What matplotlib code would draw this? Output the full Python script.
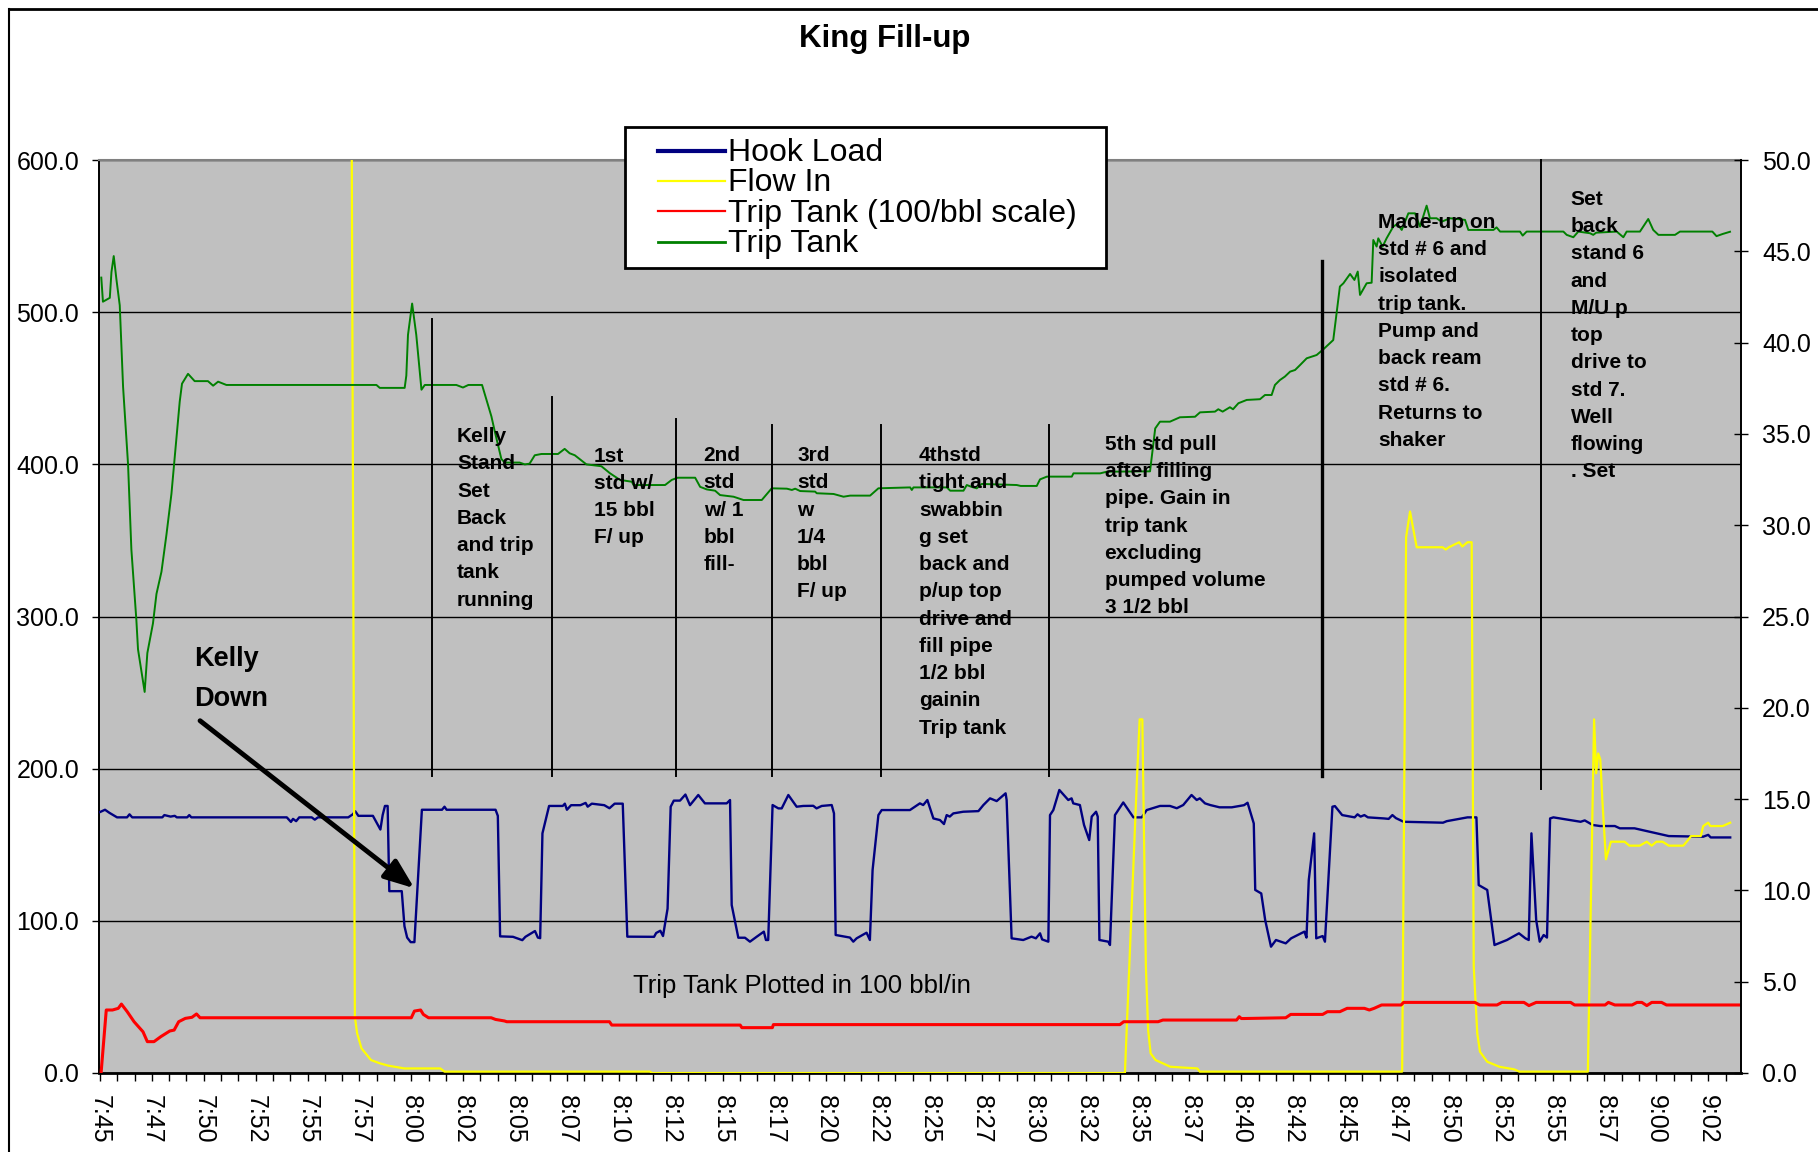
import matplotlib
matplotlib.use('Agg')
import matplotlib.pyplot as plt
from matplotlib.lines import Line2D
from matplotlib.patches import Rectangle

plt.rcParams['font.family'] = ['Liberation Sans', 'DejaVu Sans']

# x values are minutes after 7:45
tick_labels = ['7:45', '7:47', '7:50', '7:52', '7:55', '7:57', '8:00', '8:02', '8:05', '8:07',
               '8:10', '8:12', '8:15', '8:17', '8:20', '8:22', '8:25', '8:27', '8:30', '8:32',
               '8:35', '8:37', '8:40', '8:42', '8:45', '8:47', '8:50', '8:52', '8:55', '8:57',
               '9:00', '9:02']

# Hook Load (left axis)
hook_t = [0.0, 0.24, 0.45, 0.82, 1.3, 1.42, 1.55, 3.0, 3.1, 3.4, 3.6, 3.7, 4.2, 4.3, 4.4, 9.0, 9.2, 9.3,
          9.45, 9.6, 10.2, 10.35, 10.5, 11.96, 12.18, 12.3, 12.45, 13.15, 13.51, 13.62, 13.73, 13.86,
          13.94, 14.54, 14.67, 14.8, 14.97, 15.15, 15.51, 16.48, 16.6, 16.7, 19.06, 19.17, 19.28, 19.9,
          20.35, 20.5, 20.96, 21.1, 21.21, 21.32, 21.64, 22.3, 22.4, 22.5, 22.7, 23.15, 23.4, 23.5, 23.7,
          24.3, 24.55, 24.8, 25.19, 25.41, 26.7, 26.8, 27.0, 27.13, 27.35, 27.5, 27.65, 27.95, 28.21,
          28.43, 28.83, 29.15, 30.2, 30.36, 30.44, 30.76, 31.08, 31.32, 31.64, 31.99, 32.09, 32.2,
          32.41, 32.69, 32.85, 33.17, 33.57, 33.89, 34.37, 34.53, 34.78, 35.26, 35.37, 35.45, 36.14,
          36.3, 36.46, 36.94, 37.1, 37.23, 37.51, 37.67, 39.03, 39.51, 39.67, 39.87, 40.16, 40.48,
          40.67, 40.8, 40.95, 41.12, 41.6, 42.33, 42.57, 42.89, 43.21, 43.64, 43.69, 43.93, 44.49,
          44.89, 45.1, 45.3, 45.4, 45.7, 45.78, 45.94, 46.23, 46.66, 46.82, 46.9, 47.22, 47.42, 47.67,
          47.79, 48.0, 48.08, 48.16, 48.59, 48.67, 48.91, 49.31, 49.8, 50.2, 50.44, 51.08, 51.56,
          51.89, 52.2, 52.6, 52.85, 53.0, 53.25, 53.5, 53.95, 54.54, 55.13, 55.3, 55.6, 55.67, 55.96,
          56.15, 56.43, 56.67, 57.14, 57.4, 58.04, 58.14, 58.25, 58.51, 58.61, 58.92, 59.03, 59.39,
          59.51, 59.86, 60.46, 60.6, 60.75, 60.93, 61.1, 61.87, 62.1, 62.28, 62.45, 62.82, 64.72,
          64.9, 65.9, 66.33, 66.44, 66.85, 67.2, 67.8, 68.38, 68.69, 68.85, 68.98, 69.21, 69.38,
          69.57, 69.73, 69.88, 70.04, 71.35, 71.55, 71.93, 72.29, 73.0, 73.24, 73.95, 74.89, 75.6,
          77.26, 77.5, 77.62, 78.56]
hook_v = [171.5, 173, 171, 168, 168, 170, 168, 168, 169.5, 168.5, 169, 168, 168, 169.5, 168, 168, 165, 167,
          165.5, 168, 168, 166.5, 168, 168, 170, 172, 169, 169, 160, 169.5, 175.5, 175.5,
          119.5, 119.5, 96.5, 89, 86, 86, 173, 173, 175, 173, 173, 169, 89.8, 89.5,
          87.3, 89.5, 93.3, 89, 88.6, 157.5, 175.5, 175.5, 177, 173, 176, 176, 177.5, 175, 177,
          176, 174, 177, 177, 89.6, 89.5, 92, 93.5, 90, 108, 175, 179, 179, 183,
          176, 182.7, 177.2, 177.2, 179.4, 110.4, 88.9, 88.9, 86.3, 89.5, 92.9, 87.4, 87.4,
          176.1, 173.9, 173.9, 182.7, 175, 175.5, 175.6, 173.9, 175.5, 176.1, 170.6, 90.7, 89,
          86.3, 88.5, 92.2, 87.4, 133.4, 169.5, 172.8, 172.8, 177.2, 176.1, 179.4, 167.3, 166.2,
          163.6, 169.5, 168.5, 170.6, 171.7, 172.1, 176.1, 180.5, 178.7, 183.8, 179.4, 88.5, 87.4,
          89.6, 88.5, 91.8, 87.8, 86.3, 169.5, 172.8, 186, 179.4, 180.5, 177.2, 176.1, 163, 153.1,
          168.5, 171.7, 168.5, 87.4, 86.3, 84.1, 169.5, 177.8, 168, 168, 172.8, 175.5, 175.5,
          174, 176.1, 182.7, 179.4, 180.5, 177.2, 176.1, 174.6, 174.6, 176, 177.6, 164, 120.3, 118,
          100.5, 83, 87.4, 85.2, 88.5, 92.9, 89, 126.8, 157.5, 88.5, 90, 86.3, 175,
          175.4, 169.5, 168, 170, 168.5, 169.5, 168, 167.3, 167, 169.5, 167.5, 165.1, 164.5,
          165.5, 168, 168, 123.5, 120.3, 84.1, 87.4, 91.8, 88.5, 87.4, 157.5, 100.5, 86.3,
          90.7, 89, 167.3, 168, 165.1, 166, 163, 162.3, 162.3, 160.8, 160.8, 157.9, 155.7,
          155.3, 156.5, 154.8, 154.8]

# Flow In (left axis)
flow_t = [12.1, 12.28, 12.39, 12.6, 13.06, 13.5, 13.9, 14.67, 16.4, 16.6, 26.5, 26.6, 49.39, 49.96,
          50.1, 50.23, 50.4, 50.51, 50.63, 50.87, 51.58, 52.88, 53.0, 62.75, 62.94, 63.13, 63.45,
          64.7, 64.85, 65.0, 65.5, 65.65, 65.9, 66.1, 66.2, 66.37, 66.5, 66.85, 67.44, 68.15, 68.4,
          71.7, 72.0, 72.1, 72.2, 72.3, 72.4, 72.57, 72.81, 73.47, 73.7, 74.2, 74.54, 74.78, 75.0,
          75.3, 75.6, 76.3, 76.5, 76.67, 77.14, 77.26, 77.5, 77.6, 78.2, 78.56]
flow_v = [720, 37, 26, 16.2, 8.5, 6.3, 4.8, 3.0, 3.0, 0.9, 0.9, 0.0, 0.0, 190,
          232.4, 232.4, 69.9, 28.2, 12.9, 8.5, 4.1, 3.0, 0.9, 0.9, 352, 369, 345.5,
          345.5, 344, 345.5, 348.8, 346, 348.8, 348.8, 70, 26, 14, 7.4, 4.1, 2.4, 0.9,
          0.9, 232.4, 197, 210, 206, 179, 140.4, 152, 152, 149.4, 149.4, 152, 149.4, 152,
          152, 149.4, 149.4, 152.6, 155.7, 155.7, 162.3, 164.5, 162.3, 162.3, 164.5]

# Trip Tank, 100/bbl scale (left axis)
red_t = [0.05, 0.3, 0.6, 0.88, 1.03, 1.31, 1.64, 2.07, 2.28, 2.6, 2.93, 3.36, 3.57, 3.79, 4.11, 4.43,
         4.65, 4.82, 15.0, 15.15, 15.45, 15.58, 15.83, 18.85, 19.06, 19.49, 19.6, 24.55, 24.66,
         30.85, 30.93, 32.4, 32.45, 49.15, 49.33, 50.99, 51.22, 54.77, 54.9, 55.0, 55.13, 57.14,
         57.38, 58.92, 59.15, 59.75, 60.1, 60.93, 61.17, 61.4, 61.76, 62.7, 62.82, 66.25, 66.49,
         67.32, 67.56, 68.62, 68.86, 69.21, 70.87, 71.06, 72.53, 72.69, 73.0, 73.83, 74.07, 74.3,
         74.54, 74.78, 75.25, 75.49, 79.0]
red_v = [0.0, 41.4, 41.4, 42.5, 45.3, 40.3, 33.7, 27.1, 20.6, 20.6, 23.9, 27.6, 28.2, 33.7, 35.9, 36.6,
         38.8, 36.3, 36.3, 40.7, 41.4, 38.5, 36.3, 36.3, 35.2, 34.2, 33.7, 33.7, 31.5,
         31.5, 29.8, 29.8, 31.8, 31.8, 33.7, 33.7, 34.8, 34.8, 37.0, 35.8, 35.8, 36.3,
         38.5, 38.5, 40.3, 40.3, 42.5, 42.5, 41.4, 42.5, 44.7, 44.7, 46.4, 46.4, 44.7,
         44.7, 46.4, 46.4, 44.3, 46.4, 46.4, 44.7, 44.7, 46.4, 44.7, 44.7, 46.4, 46.4,
         44.3, 46.4, 46.4, 44.7, 44.7]

# Trip Tank (right axis)
green_t = [0.06, 0.14, 0.47, 0.55, 0.66, 0.79, 0.95, 1.11, 1.35, 1.51, 1.75, 1.83, 2.15, 2.28, 2.55,
           2.72, 2.96, 3.2, 3.44, 3.68, 3.84, 3.95, 4.24, 4.56, 5.2, 5.45, 5.69, 6.09, 13.32, 13.48,
           14.68, 14.76, 14.84, 15.04, 15.24, 15.41, 15.49, 15.65, 17.17, 17.49, 17.75, 18.41, 18.86,
           19.02, 19.34, 19.5, 20.22, 20.47, 20.7, 20.95, 21.27, 22.07, 22.39, 22.63, 22.88, 23.44,
           24.16, 24.58, 25.06, 25.63, 25.71, 27.23, 27.55, 27.83, 28.68, 28.92, 29.24, 29.64, 29.88,
           30.53, 31.01, 31.89, 32.37, 33.1, 33.34, 33.5, 33.74, 34.46, 34.54, 35.35, 35.83, 36.15,
           37.11, 37.51, 39.04, 39.12, 39.2, 40.81, 40.97, 41.61, 41.77, 42.0, 42.25, 42.49, 44.18,
           44.37, 45.14, 45.3, 45.63, 46.83, 46.91, 48.2, 48.52, 50.6, 50.85, 51.08, 51.56, 52.04,
           52.77, 53.01, 53.73, 53.89, 54.1, 54.45, 54.6, 54.86, 55.26, 55.9, 56.14, 56.46, 56.62,
           56.86, 57.1, 57.35, 57.59, 57.83, 58.15, 58.63, 58.95, 59.43, 59.51, 59.75, 59.92, 60.24,
           60.45, 60.61, 60.72, 61.04, 61.28, 61.36, 61.52, 61.6, 61.81, 62.0, 62.32, 62.52, 62.73,
           63.05, 63.37, 63.61, 63.93, 64.09, 64.41, 64.65, 65.06, 65.78, 65.94, 67.15, 67.3, 67.47,
           68.43, 68.56, 68.75, 70.52, 70.68, 71.0, 71.24, 71.8, 71.96, 72.1, 73.09, 73.41, 73.57,
           74.21, 74.61, 74.85, 75.1, 75.9, 76.14, 77.7, 77.9, 78.2, 78.55]
green_v = [43.56, 42.24, 42.45, 43.86, 44.74, 43.46, 42.04, 37.58, 33.33, 28.67, 24.82, 23.2, 20.87, 23.0, 24.62,
           26.24, 27.45, 29.48, 31.71, 34.75, 36.77, 37.75, 38.29, 37.89, 37.89, 37.64, 37.86, 37.68, 37.68, 37.52,
           37.52, 38.19, 40.42, 42.14, 40.42, 38.39, 37.42, 37.68, 37.68, 37.54, 37.68, 37.68, 35.96,
           35.15, 33.63, 33.43, 33.43, 33.33, 33.37, 33.83, 33.9, 33.9, 34.18, 33.94, 33.83, 33.33,
           33.23, 32.84, 32.48, 32.38, 32.2, 32.2, 32.48, 32.6, 32.6, 32.1, 31.96, 31.89, 31.65,
           31.56, 31.38, 31.38, 32.02, 32.0, 31.93, 32.0, 31.87, 31.84, 31.75, 31.71, 31.56, 31.62,
           31.62, 32.02, 32.07, 31.93, 32.07, 32.07, 31.89, 31.89, 32.2, 32.1, 32.02, 32.26, 32.2,
           32.15, 32.15, 32.51, 32.66, 32.66, 32.84, 32.84, 32.93, 32.95, 35.3, 35.67, 35.67, 35.91,
           35.94, 36.18, 36.22, 36.35, 36.22, 36.46, 36.35, 36.68, 36.86, 36.9, 37.13, 37.13, 37.68,
           37.95, 38.14, 38.41, 38.5, 38.77, 39.14, 39.32, 39.63, 40.14, 40.87, 43.07, 43.25, 43.76,
           43.43, 43.89, 42.61, 43.25, 43.28, 45.62, 45.26, 45.71, 45.26, 45.71, 46.35, 46.5, 46.17,
           47.08, 47.08, 46.35, 47.5, 46.81, 46.81, 46.62, 46.81, 46.72, 46.17, 46.17, 46.31, 46.08,
           46.08, 45.86, 46.08, 46.08, 45.9, 45.77, 46.08, 45.99, 45.9, 46.02, 46.08, 45.77, 46.08,
           46.08, 46.77, 46.17, 45.9, 45.9, 46.08, 46.08, 45.83, 45.95, 46.07]

# notes drawn on the chart: (minutes, left-axis value, text)
notes = [
    (17.2, 424.5, 'Kelly\nStand\nSet\nBack\nand trip\ntank\nrunning'),
    (23.81, 411.6, '1st\nstd w/\n15 bbl\nF/ up'),
    (29.09, 412.0, '2nd\nstd\nw/ 1\nbbl\nfill-'),
    (33.59, 412.0, '3rd\nstd\nw\n1/4\nbbl\nF/ up'),
    (39.47, 412.0, '4thstd\ntight and\nswabbin\ng set\nback and\np/up top\ndrive and\nfill pipe\n1/2 bbl\ngainin\nTrip tank'),
    (48.41, 419.3, '5th std pull\nafter filling\npipe. Gain in\ntrip tank\nexcluding\npumped volume\n3 1/2 bbl'),
    (61.59, 565.2, 'Made-up on\nstd # 6 and\nisolated\ntrip tank.\nPump and\nback ream\nstd # 6.\nReturns to\nshaker'),
    (70.87, 580.3, 'Set\nback\nstand 6\nand\nM/U p\ntop\ndrive to\nstd 7.\nWell\nflowing\n. Set'),
]
# separator lines: (minutes, bottom, top, width)
separators = [(15.98, 195.2, 495.5, 1.4), (21.78, 195.2, 444.2, 1.4), (27.74, 195.2, 429.6, 1.4),
              (32.38, 195.2, 425.8, 1.4), (37.64, 195.2, 425.8, 1.4), (45.73, 195.2, 425.8, 1.4),
              (58.89, 195.2, 533.6, 2.4), (69.42, 186.6, 600.0, 1.4)]

W, H = 1818, 1152
fig = plt.figure(figsize=(W / 100, H / 100), dpi=100)
ax = fig.add_axes([99 / W, 1 - 1073 / H, (1741 - 99) / W, (1073 - 160) / H])
ax.set_facecolor('#c0c0c0')
ax2 = ax.twinx()

ax.plot(hook_t, hook_v, color='#000080', lw=1.7, zorder=3)
ax.plot(flow_t, flow_v, color='#ffff00', lw=1.6, zorder=3)
ax.plot(red_t, red_v, color='#ff0000', lw=2.2, zorder=3)
ax2.plot(green_t, green_v, color='#008000', lw=1.4)

ax.set_xlim(-0.05, 79.08)
ax.set_ylim(0, 600)
ax2.set_ylim(0, 50)

# x axis: label every 2.5 min, small tick every 50 s
ax.set_xticks([2.5 * k for k in range(len(tick_labels))])
ax.set_xticklabels(tick_labels, rotation=-90, fontsize=18)
ax.set_xticks([5 / 6 * k for k in range(95) if k % 3 != 0], minor=True)
ax.tick_params(axis='x', which='both', direction='out', length=6, width=1, pad=10)

ax.set_yticks(range(0, 601, 100))
ax.set_yticklabels(['%.1f' % v for v in range(0, 601, 100)], fontsize=18)
ax.tick_params(axis='y', direction='out', length=5.4, width=1, pad=9)
ax.yaxis.grid(True, color='black', lw=1.0)
ax.set_axisbelow(True)

ax2.set_yticks(range(0, 51, 5))
ax2.set_yticklabels(['%.1f' % v for v in range(0, 51, 5)], fontsize=18)
ax2.tick_params(axis='y', direction='inout', length=9.7, width=1, pad=10.3)

ax.spines['top'].set_color('#808080')
ax.spines['top'].set_linewidth(1.5)
ax.spines['bottom'].set_linewidth(2)
ax.spines['left'].set_linewidth(1.4)
ax.spines['right'].set_visible(False)
for s in ['top', 'bottom', 'left']:
    ax2.spines[s].set_visible(False)
ax2.spines['right'].set_linewidth(1.4)

# notes, separators and arrow go on ax2 so they sit above the lines
for x, y0, y1, lw in separators:
    ax2.plot([x, x], [y0, y1], color='black', lw=lw, transform=ax.transData, clip_on=False)
for x, y, s in notes:
    ax2.text(x, y, s, transform=ax.transData, fontsize=15, fontweight='bold',
             va='top', ha='left', linespacing=1.55)
ax2.text(4.53, 280.8, 'Kelly\nDown', transform=ax.transData, fontsize=19.5, fontweight='bold',
         va='top', ha='left', linespacing=1.7)
ax2.annotate('', xy=(15.15, 121.4), xytext=(4.82, 231.5), xycoords=ax.transData, textcoords=ax.transData,
             arrowprops=dict(arrowstyle='-|>,head_length=0.9,head_width=0.35', lw=3.5, color='black',
                             shrinkA=0, shrinkB=0, mutation_scale=20))
ax2.text(25.68, 52.4, 'Trip Tank Plotted in 100 bbl/in', transform=ax.transData, fontsize=18.5,
         va='baseline', ha='left')

fig.text(885 / W, 1 - 46.7 / H, 'King Fill-up', ha='center', va='baseline', fontsize=22.5, fontweight='bold')

# legend box
fig.add_artist(Rectangle((625 / W, 1 - 268.3 / H), (1105.6 - 625) / W, (268.3 - 126.7) / H,
                         transform=fig.transFigure, facecolor='white', edgecolor='black', lw=2, zorder=5))
leg_items = [('Hook Load', '#000080', 3.0), ('Flow In', '#ffff00', 1.6),
             ('Trip Tank (100/bbl scale)', '#ff0000', 1.6), ('Trip Tank', '#008000', 2.0)]
for i, (lab, col, lw) in enumerate(leg_items):
    yc = 150.7 + 30.3 * i
    fig.add_artist(Line2D([658 / W, 725 / W], [1 - yc / H] * 2, color=col, lw=lw,
                          transform=fig.transFigure, zorder=6))
    fig.text(728.5 / W, 1 - (yc + 10.3) / H, lab, fontsize=23, va='baseline', ha='left', zorder=6)

# chart border (top and left edges show in the picture)
fig.add_artist(Line2D([9 / W, 1], [1 - 9 / H] * 2, color='black', lw=2, transform=fig.transFigure))
fig.add_artist(Line2D([9 / W] * 2, [0, 1 - 9 / H], color='black', lw=1.5, transform=fig.transFigure))

fig.savefig('out.png', dpi=100)
